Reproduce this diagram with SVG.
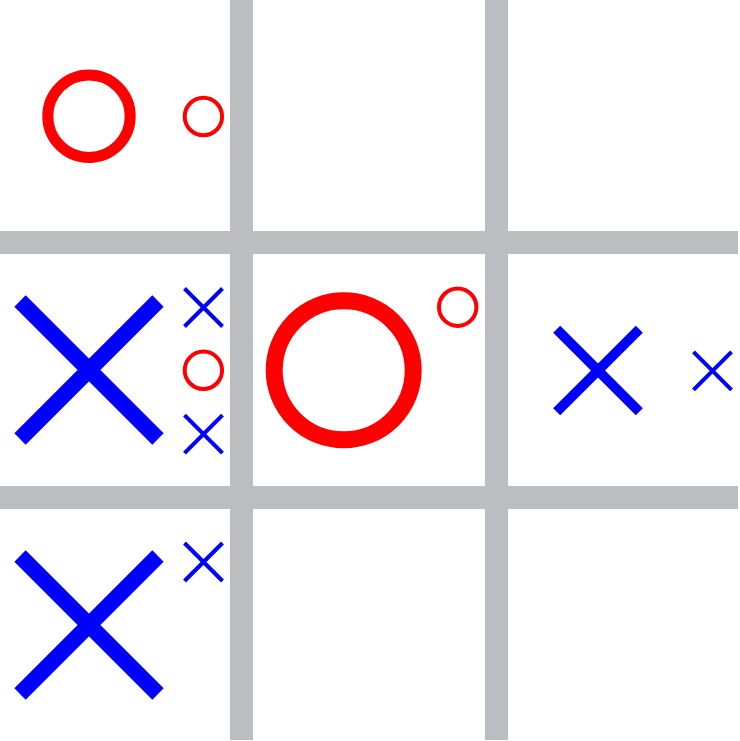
<svg xmlns="http://www.w3.org/2000/svg" width="740" height="741" viewBox="0 0 740 741">
<style>
.grid{fill:#bcbdc0}
.o{fill:none;stroke:#ff0000}
.x{stroke:#0000ff;fill:none;stroke-linecap:butt}
</style>
<defs>
<path id="xs" d="M-19,-19L19,19M19,-19L-19,19"/>
</defs>
<rect width="740" height="741" fill="#ffffff"/>
<g id="grid">
<rect class="grid" x="230" y="0" width="23" height="740"/>
<rect class="grid" x="485" y="0" width="23" height="740"/>
<rect class="grid" x="0" y="231" width="738" height="23"/>
<rect class="grid" x="0" y="486" width="738" height="23"/>
</g>
<g id="cell-top-left">
<circle class="o" cx="89" cy="116.3" r="41.2" stroke-width="11"/>
<circle class="o" cx="203.4" cy="116.5" r="18.7" stroke-width="4"/>
</g>
<g id="cell-mid-left">
<path class="x" d="M20,301L158,439M158,301L20,439" stroke-width="16"/>
<use href="#xs" class="x" x="203.5" y="307.5" stroke-width="4"/>
<circle class="o" cx="203.4" cy="370.3" r="18.7" stroke-width="4"/>
<use href="#xs" class="x" x="203.5" y="434.2" stroke-width="4"/>
</g>
<g id="cell-center">
<circle class="o" cx="343.7" cy="370.3" r="69.5" stroke-width="17"/>
<circle class="o" cx="457.7" cy="307.2" r="18.7" stroke-width="4"/>
</g>
<g id="cell-mid-right">
<path class="x" d="M556.7,329.3L639.3,411.7M639.3,329.3L556.7,411.7" stroke-width="10"/>
<use href="#xs" class="x" x="712.5" y="370.8" stroke-width="4"/>
</g>
<g id="cell-bottom-left">
<path class="x" d="M20,556L158,694M158,556L20,694" stroke-width="16"/>
<use href="#xs" class="x" x="203.5" y="562" stroke-width="4"/>
</g>
</svg>
